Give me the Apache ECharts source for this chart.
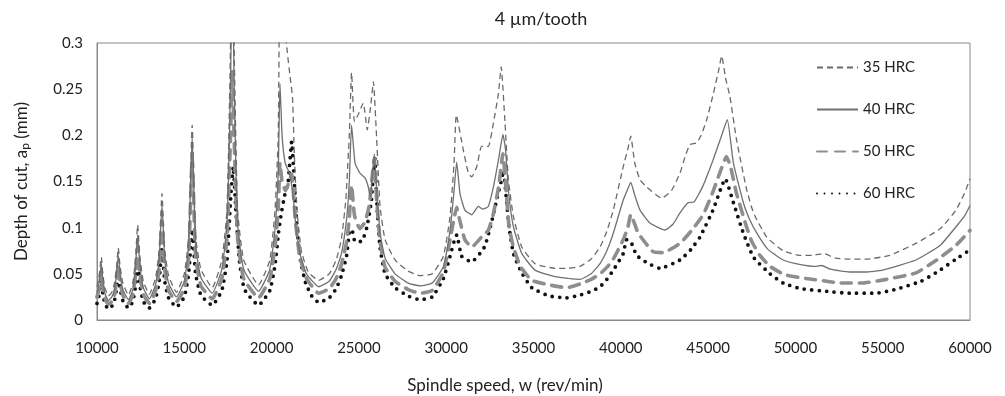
<!DOCTYPE html>
<html>
<head>
<meta charset="utf-8">
<script src="https://cdn.jsdelivr.net/npm/echarts@6/dist/echarts.min.js"></script>
<style>html,body{margin:0;padding:0;background:#fff}#c{width:1005px;height:396px}</style>
</head>
<body>
<div id="c"></div>
<script>
// Series names
const seriesNames = ['35 HRC', '40 HRC', '50 HRC', '60 HRC'];
// Axis ticks
const xTicks = [10000, 15000, 20000, 25000, 30000, 35000, 40000, 45000, 50000, 55000, 60000];
const yTicks = [0, 0.05, 0.1, 0.15, 0.2, 0.25, 0.3];

// [spindle speed (rev/min), depth of cut (mm)]
const hrc35 = [
[10000,0.036],[10100,0.045],[10180,0.058],[10250,0.068],[10330,0.05],[10450,0.035],[10650,0.026],[10850,0.03],
[11000,0.04],[11120,0.058],[11220,0.078],[11320,0.058],[11480,0.04],[11800,0.027],[12050,0.04],[12200,0.065],
[12330,0.103],[12450,0.07],[12650,0.042],[13000,0.028],[13350,0.045],[13560,0.075],[13720,0.137],[13880,0.075],
[14100,0.048],[14550,0.03],[15000,0.05],[15250,0.09],[15450,0.211],[15650,0.09],[15950,0.055],[16600,0.035],
[17150,0.065],[17450,0.12],[17650,0.3],[17750,0.45],[17850,0.3],[18050,0.12],[18400,0.065],[19250,0.038],
[19900,0.065],[20200,0.12],[20380,0.2],[20480,0.36],[20700,0.33],[20900,0.29],[21050,0.265],[21200,0.24],
[21300,0.18],[21450,0.12],[21700,0.075],[22100,0.052],[22700,0.043],[23300,0.05],[23700,0.065],[24000,0.088],
[24250,0.13],[24450,0.2],[24580,0.268],[24740,0.215],[24950,0.222],[25250,0.235],[25480,0.206],[25670,0.231],
[25830,0.258],[26020,0.195],[26210,0.123],[26500,0.087],[27070,0.065],[27820,0.053],[28500,0.048],[29200,0.05],
[29840,0.069],[30220,0.112],[30450,0.17],[30580,0.222],[30980,0.184],[31270,0.159],[31460,0.155],[31750,0.166],
[32030,0.188],[32410,0.188],[32700,0.213],[32990,0.245],[33150,0.274],[33370,0.213],[33560,0.152],[33850,0.112],
[34330,0.079],[35090,0.061],[36240,0.056],[37000,0.056],[37660,0.058],[38300,0.066],[38810,0.079],[39200,0.096],
[39570,0.119],[40140,0.166],[40400,0.185],[40570,0.199],[40800,0.17],[41100,0.152],[41480,0.144],[42340,0.132],
[42900,0.14],[43390,0.159],[43700,0.178],[43960,0.19],[44350,0.192],[44600,0.2],[44920,0.217],[45300,0.245],
[45600,0.27],[45780,0.286],[46000,0.262],[46250,0.242],[46630,0.195],[47200,0.142],[47600,0.116],[48350,0.09],
[49300,0.075],[50300,0.07],[51000,0.07],[51600,0.072],[52300,0.067],[53100,0.066],[54100,0.066],[55400,0.070],
[56900,0.083],[58300,0.099],[59200,0.119],[59700,0.138],[60000,0.153]
];
const hrc40 = [
[10000,0.030],[10100,0.038],[10180,0.05],[10250,0.061],[10330,0.043],[10450,0.029],[10650,0.021],[10850,0.025],
[11000,0.033],[11120,0.05],[11220,0.070],[11320,0.05],[11480,0.033],[11800,0.022],[12050,0.033],[12200,0.056],
[12330,0.092],[12450,0.06],[12650,0.035],[13000,0.023],[13350,0.038],[13560,0.065],[13720,0.125],[13880,0.065],
[14100,0.04],[14550,0.025],[15000,0.042],[15250,0.08],[15450,0.2],[15650,0.08],[15950,0.046],[16600,0.029],
[17150,0.055],[17450,0.105],[17650,0.26],[17750,0.40],[17850,0.26],[18050,0.105],[18400,0.055],[19250,0.031],
[19900,0.055],[20200,0.1],[20380,0.16],[20480,0.256],[20600,0.2],[20780,0.17],[21000,0.16],[21200,0.14],
[21400,0.1],[21650,0.07],[22000,0.05],[22700,0.036],[23300,0.042],[23700,0.055],[24000,0.072],[24300,0.11],
[24450,0.15],[24580,0.211],[24780,0.170],[25060,0.159],[25350,0.154],[25540,0.144],[25650,0.133],[25880,0.18],
[26020,0.14],[26210,0.095],[26500,0.067],[27070,0.05],[27820,0.04],[28500,0.037],[29200,0.04],[29840,0.058],
[30220,0.097],[30450,0.14],[30600,0.171],[30790,0.137],[31070,0.119],[31460,0.114],[31840,0.123],[32100,0.12],
[32410,0.123],[32700,0.144],[32990,0.173],[33250,0.201],[33400,0.184],[33580,0.137],[33850,0.101],[34330,0.072],
[35090,0.054],[36240,0.047],[37000,0.045],[37660,0.044],[38300,0.05],[38810,0.061],[39200,0.075],[39570,0.094],
[40140,0.13],[40400,0.142],[40570,0.149],[40800,0.135],[41100,0.119],[41670,0.105],[42530,0.0975],[43000,0.104],
[43390,0.116],[43850,0.127],[44200,0.128],[44700,0.145],[45280,0.173],[45780,0.2],[46100,0.217],[46450,0.17],
[47020,0.127],[47400,0.108],[47790,0.094],[48400,0.077],[49300,0.065],[50300,0.06],[51200,0.058],[51500,0.059],
[52000,0.055],[53100,0.052],[54000,0.052],[55000,0.054],[56900,0.065],[58300,0.081],[59200,0.101],[59700,0.113],
[60000,0.124]
];
const hrc50 = [
[10000,0.025],[10100,0.032],[10180,0.043],[10250,0.053],[10330,0.036],[10450,0.024],[10650,0.017],[10850,0.02],
[11000,0.027],[11120,0.042],[11220,0.060],[11320,0.042],[11480,0.027],[11800,0.018],[12050,0.027],[12200,0.048],
[12330,0.080],[12450,0.05],[12650,0.028],[13000,0.018],[13350,0.031],[13560,0.055],[13720,0.108],[13880,0.055],
[14100,0.032],[14550,0.02],[15000,0.034],[15250,0.068],[15450,0.175],[15650,0.068],[15950,0.037],[16600,0.023],
[17150,0.045],[17450,0.09],[17650,0.2],[17750,0.27],[17850,0.2],[18050,0.09],[18400,0.045],[19250,0.024],
[19900,0.045],[20200,0.08],[20380,0.12],[20480,0.17],[20600,0.15],[20800,0.14],[21000,0.15],[21150,0.158],
[21350,0.11],[21600,0.07],[22000,0.045],[22700,0.029],[23300,0.034],[23700,0.045],[24000,0.06],[24300,0.085],
[24450,0.11],[24580,0.146],[24750,0.113],[25050,0.099],[25350,0.106],[25600,0.125],[25880,0.175],[26020,0.13],
[26210,0.085],[26500,0.057],[27070,0.042],[27820,0.033],[28500,0.029],[29200,0.032],[29840,0.052],[30220,0.087],
[30450,0.11],[30600,0.122],[30750,0.11],[31070,0.087],[31460,0.079],[32030,0.09],[32410,0.097],[32700,0.115],
[33000,0.144],[33250,0.18],[33400,0.148],[33600,0.101],[33850,0.079],[34250,0.058],[34900,0.043],[35900,0.038],
[36900,0.035],[37660,0.039],[38300,0.044],[38810,0.05],[39200,0.057],[39570,0.066],[40140,0.087],[40400,0.1],
[40570,0.114],[41000,0.094],[41850,0.074],[42420,0.073],[43390,0.083],[44100,0.098],[44720,0.114],[45300,0.14],
[45780,0.165],[46050,0.177],[46300,0.165],[46630,0.137],[47200,0.101],[47500,0.085],[47970,0.07],[48550,0.058],
[49400,0.049],[50600,0.045],[51800,0.042],[52500,0.04],[53800,0.040],[55200,0.044],[56900,0.051],[58100,0.065],
[59200,0.081],[60000,0.097]
];
const hrc60 = [
[10000,0.018],[10100,0.025],[10180,0.035],[10250,0.044],[10330,0.029],[10450,0.018],[10650,0.012],[10850,0.015],
[11000,0.021],[11120,0.034],[11220,0.050],[11320,0.034],[11480,0.021],[11800,0.013],[12050,0.02],[12200,0.036],
[12330,0.062],[12450,0.038],[12650,0.02],[13000,0.013],[13350,0.023],[13560,0.042],[13720,0.078],[13880,0.042],
[14100,0.024],[14550,0.014],[15000,0.025],[15250,0.05],[15450,0.098],[15650,0.05],[15950,0.027],[16600,0.016],
[17150,0.032],[17450,0.065],[17650,0.13],[17800,0.166],[17950,0.12],[18150,0.065],[18450,0.033],[19250,0.016],
[19900,0.032],[20200,0.06],[20400,0.095],[20550,0.115],[20750,0.135],[20950,0.15],[21150,0.193],[21300,0.15],
[21450,0.1],[21650,0.065],[21950,0.04],[22300,0.026],[22700,0.019],[23300,0.024],[23700,0.034],[24000,0.048],
[24300,0.07],[24450,0.095],[24600,0.098],[24780,0.085],[25150,0.085],[25450,0.1],[25720,0.13],[25900,0.177],
[26050,0.12],[26200,0.08],[26500,0.05],[27070,0.035],[27820,0.026],[28500,0.022],[29200,0.025],[29840,0.045],
[30220,0.069],[30450,0.085],[30600,0.092],[30890,0.069],[31460,0.063],[31930,0.072],[32220,0.08],[32600,0.106],
[32890,0.13],[33170,0.152],[33280,0.162],[33450,0.13],[33600,0.101],[33850,0.072],[34330,0.051],[34900,0.035],
[35900,0.026],[36900,0.024],[37660,0.027],[38300,0.031],[38810,0.036],[39200,0.044],[39570,0.054],[40140,0.072],
[40330,0.087],[40570,0.085],[40910,0.070],[41500,0.062],[42250,0.056],[43390,0.065],[44000,0.076],[44540,0.09],
[45300,0.12],[45780,0.145],[45980,0.153],[46450,0.127],[47020,0.094],[47600,0.068],[48550,0.05],[49300,0.04],
[50300,0.034],[51800,0.031],[53100,0.029],[54600,0.029],[55700,0.033],[57200,0.042],[58200,0.053],[59200,0.066],
[60000,0.076]
];

const FONT = 'Lato, "Open Sans", sans-serif';
const chart = echarts.init(document.getElementById('c'), null, {renderer: 'canvas'});
const styles = [
  {color: '#6a6a6a', width: 1.3, type: [6, 4], cap: 'butt'},
  {color: '#707070', width: 1.3, type: 'solid', cap: 'butt'},
  {color: '#8e8e8e', width: 3.6, type: [10, 8], cap: 'round'},
  {color: '#111111', width: 3.8, type: [0, 7.5], cap: 'round'}
];
const datasets = [hrc35, hrc40, hrc50, hrc60];
chart.setOption({
  animation: false,
  backgroundColor: '#fff',
  title: [
    {text: '4 µm/tooth', left: 536, top: 5, textAlign: 'center',
     textStyle: {fontFamily: FONT, fontSize: 18, fontWeight: 'normal', color: '#222'}},
    {text: 'Spindle speed, w (rev/min)', left: 500, top: 372, textAlign: 'center',
     textStyle: {fontFamily: FONT, fontSize: 17, fontWeight: 'normal', color: '#222'}}
  ],
  grid: {left: 97, right: 35, top: 43, bottom: 76, show: true, borderColor: '#8a8a8a', borderWidth: 1},
  legend: {
    orient: 'vertical', left: 811, top: 55, itemWidth: 41, itemHeight: 14, itemGap: 27,
    data: seriesNames,
    itemStyle: {opacity: 0},
    textStyle: {fontFamily: FONT, fontSize: 15, color: '#222'}
  },
  xAxis: {
    type: 'value', min: xTicks[0], max: xTicks[xTicks.length - 1], interval: 5000,
    axisLine: {show: true, lineStyle: {color: '#8a8a8a'}},
    axisTick: {show: false}, splitLine: {show: false},
    axisLabel: {margin: 21, fontFamily: FONT, fontSize: 15, color: '#222', formatter: v => String(v)}
  },
  yAxis: {
    type: 'value', min: yTicks[0], max: yTicks[yTicks.length - 1], interval: 0.05,
    name: 'Depth of cut, a{s|p} (mm)', nameLocation: 'middle', nameGap: 66, nameRotate: 90,
    nameTextStyle: {fontFamily: FONT, fontSize: 17, color: '#222',
      rich: {s: {fontFamily: FONT, fontSize: 12, color: '#222', padding: [6, 0, 0, 0]}}},
    axisLine: {show: true, lineStyle: {color: '#8a8a8a'}},
    axisTick: {show: false}, splitLine: {show: false},
    axisLabel: {margin: 14, fontFamily: FONT, fontSize: 15, color: '#222'}
  },
  series: seriesNames.map((n, i) => ({
    name: n, type: 'line', data: datasets[i], symbol: 'none', smooth: 0.15,
    clip: true, z: 4 - i,
    lineStyle: styles[i], itemStyle: {color: styles[i].color}
  }))
});
</script>
</body>
</html>
